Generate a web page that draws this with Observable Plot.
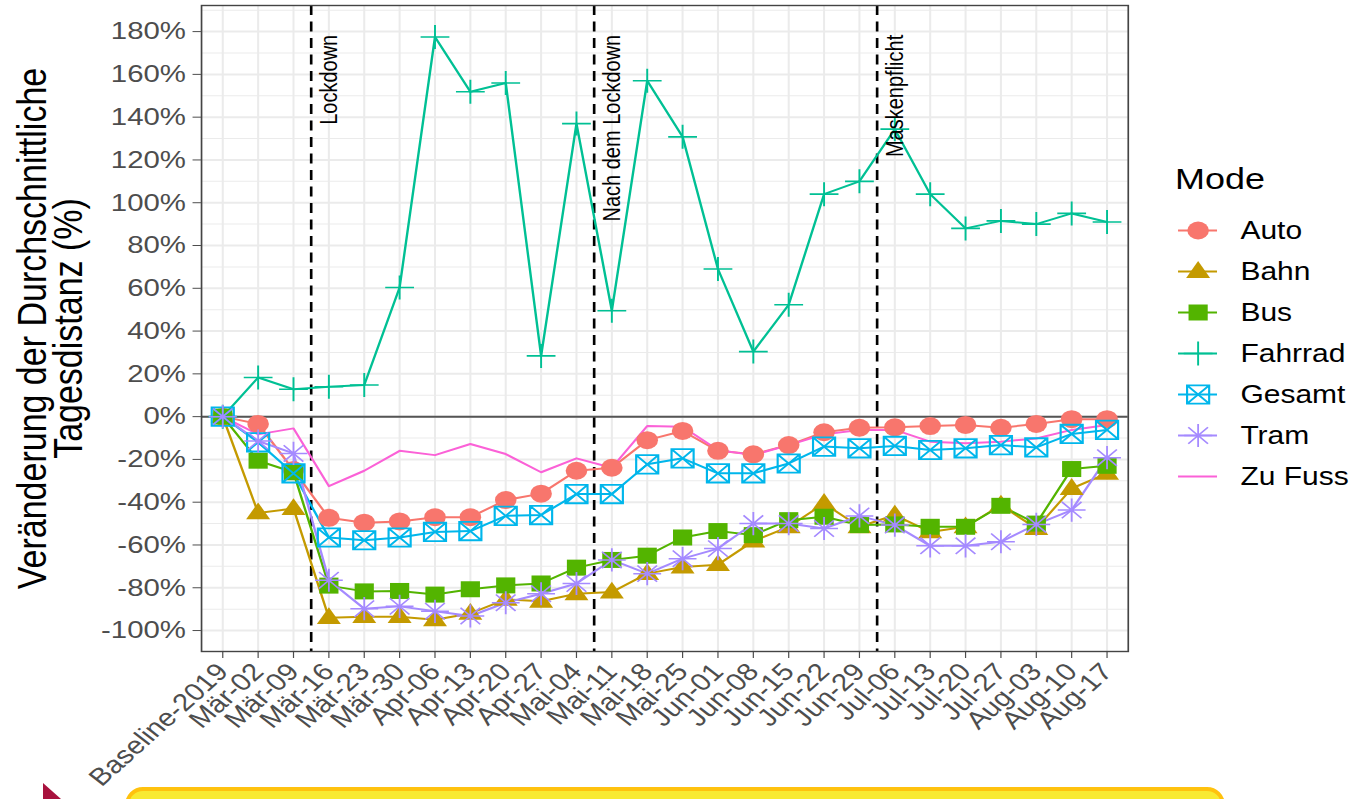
<!DOCTYPE html>
<html>
<head>
<meta charset="utf-8">
<script src="https://cdn.jsdelivr.net/npm/d3@7"></script>
<script src="https://cdn.jsdelivr.net/npm/@observablehq/plot@0.6"></script>
<style>
html, body { margin: 0; padding: 0; background: #fff; }
#root { position: relative; width: 1352px; height: 799px; overflow: hidden; background: #fff; font-family: "Liberation Sans", Arial, sans-serif; }
#chart { position: absolute; left: 0; top: 0; }
#legend { position: absolute; left: 1152px; top: 150px; }
#note { position: absolute; left: 125px; top: 787px; width: 1092px; height: 40px; border: 4px solid #FFC20E; border-radius: 18px; background: #F8EA32; }
#mark { position: absolute; left: 43px; top: 783px; width: 18px; height: 16px; background: #A8123E; clip-path: polygon(0 0, 100% 100%, 0 100%); }
</style>
</head>
<body>
<div id="root">
  <div id="chart"></div>
  <div id="legend"></div>
  <div id="note"></div>
  <div id="mark"></div>
</div>
<script>
// ---------- data ----------
const categories = ["Baseline-2019","Mär-02","Mär-09","Mär-16","Mär-23","Mär-30","Apr-06","Apr-13","Apr-20","Apr-27","Mai-04","Mai-11","Mai-18","Mai-25","Jun-01","Jun-08","Jun-15","Jun-22","Jun-29","Jul-06","Jul-13","Jul-20","Jul-27","Aug-03","Aug-10","Aug-17"];
const modes = ["Auto","Bahn","Bus","Fahrrad","Gesamt","Tram","Zu Fuss"];
const colors = ["#F8766D","#C49A00","#53B400","#00C094","#00B6EB","#A58AFF","#FB61D7"];

const auto    = [0, -3.4, -25, -47.3, -49.6, -49, -47, -47, -39, -36, -25.3, -23.9, -11, -6.7, -16, -17.6, -13.3, -7.3, -5.2, -5, -4.4, -3.9, -5.2, -3.4, -1.2, -1.2];
const bahn    = [0, -45, -43, -94, -93.5, -93.5, -95, -92, -85.4, -86.3, -82.8, -82, -73.4, -70.3, -69.2, -58.2, -51.5, -40.6, -51.5, -46, -53.9, -51.5, -41.4, -52.3, -33.6, -26.5];
const bus     = [0, -20.6, -26, -79, -81.7, -81.5, -83.2, -80.7, -78.9, -78, -70.6, -67, -65, -56.5, -53.5, -55.4, -48.4, -46.8, -50.7, -50.4, -51.5, -51.5, -41.7, -50, -24.5, -23];
const fahrrad = [0, 18.3, 12.8, 14, 14.8, 60.4, 177.5, 151.9, 156, 28.4, 137, 49.5, 157, 130.8, 69, 30.4, 52.3, 104, 110, 134.4, 104, 88, 91.5, 90, 95, 91];
const gesamt  = [0, -12, -26.5, -56.5, -57.8, -56.5, -53.9, -53.5, -46.4, -46, -36.2, -36.2, -22.3, -19.5, -26.5, -26.5, -21.9, -14, -14.8, -13.7, -15.6, -14.8, -13.3, -14.4, -8.1, -6.2];
const tram    = [0, -11.4, -17.2, -76.5, -89.8, -88.7, -91, -93.2, -87, -82.8, -78, -67, -73.4, -66.4, -61.7, -50, -50, -52.3, -46.4, -50.7, -60.4, -60.4, -58.5, -50.4, -43.7, -19.2];
const zuFuss  = [0, -8.3, -5.5, -32.5, -25.3, -16, -18, -12.8, -17.5, -26, -19.5, -23.9, -4.4, -4.7, -15.6, -18, -13.3, -8.3, -6.2, -6.2, -11.7, -12.5, -11.7, -10.2, -6.2, -3.9];

const yTicks = d3.range(-100, 181, 20);
const yMinor = d3.range(-90, 191, 20);
const events = [
  {label: "Lockdown", after: "Mär-16"},
  {label: "Nach dem Lockdown", after: "Mai-11"},
  {label: "Maskenpflicht", after: "Jul-06"}
];
const eventLabelY = 178.5;
const yTitle = "Veränderung der Durchschnittliche\nTagesdistanz (%)";
const legendTitle = "Mode";

// ---------- build table ----------
const series = {"Auto": auto, "Bahn": bahn, "Bus": bus, "Fahrrad": fahrrad, "Gesamt": gesamt, "Tram": tram, "Zu Fuss": zuFuss};
const rows = modes.flatMap(m => series[m].map((v, i) => ({mode: m, i, cat: categories[i], value: v})));
const colorOf = Object.fromEntries(modes.map((m, k) => [m, colors[k]]));

// ---------- symbols ----------
const rad = s => Math.sqrt(s / Math.PI);
const sym = {
  tri:  {draw(c, s) { const r = rad(s); c.moveTo(0, -1.3 * r); c.lineTo(1.25 * r, 0.8 * r); c.lineTo(-1.25 * r, 0.8 * r); c.closePath(); }},
  sq:   {draw(c, s) { const a = 1.0 * rad(s); c.rect(-a, -a, 2 * a, 2 * a); }},
  plus: {draw(c, s) { const a = 1.5 * rad(s); c.moveTo(-a, 0); c.lineTo(a, 0); c.moveTo(0, -a); c.lineTo(0, a); }},
  boxX: {draw(c, s) { const a = 1.15 * rad(s); c.rect(-a, -a, 2 * a, 2 * a); c.moveTo(-a, -a); c.lineTo(a, a); c.moveTo(a, -a); c.lineTo(-a, a); }},
  star: {draw(c, s) { const a = 1.45 * rad(s), b = a * Math.SQRT1_2; c.moveTo(-a, 0); c.lineTo(a, 0); c.moveTo(0, -a); c.lineTo(0, a); c.moveTo(-b, -b); c.lineTo(b, b); c.moveTo(b, -b); c.lineTo(-b, b); }}
};
const markerStyle = {
  "Auto":    {symbol: "circle", filled: true,  r: 9},
  "Bahn":    {symbol: sym.tri,  filled: true,  r: 8},
  "Bus":     {symbol: sym.sq,   filled: true,  r: 8},
  "Fahrrad": {symbol: sym.plus, filled: false, r: 8, sw: 1.6},
  "Gesamt":  {symbol: sym.boxX, filled: false, r: 8, sw: 1.8},
  "Tram":    {symbol: sym.star, filled: false, r: 8, sw: 1.5},
  "Zu Fuss": null
};
function dotMark(data, m, x, y) {
  const ms = markerStyle[m];
  return Plot.dot(data, {
    x, y, symbol: ms.symbol, r: ms.r,
    fill: ms.filled ? colorOf[m] : "none",
    stroke: ms.filled ? "none" : colorOf[m],
    strokeWidth: ms.sw || 1
  });
}

// ---------- layout ----------
const FONT = '"Liberation Sans", Arial, Helvetica, sans-serif';
const S = 1352 / 1127; // horizontal stretch of the reference picture
const W = 1127, H = 799;

function stretch(svg, w, h) {
  svg.setAttribute("viewBox", `0 0 ${w} ${h}`);
  svg.setAttribute("preserveAspectRatio", "none");
  svg.setAttribute("width", w * S);
  svg.setAttribute("height", h);
  svg.style.width = (w * S) + "px";
  svg.style.height = h + "px";
  svg.style.maxWidth = "none";
  return svg;
}

const main = Plot.plot({
  width: W, height: H,
  marginLeft: 167.5, marginRight: 187, marginTop: 5, marginBottom: 148,
  style: {fontFamily: FONT, fontSize: "24px", background: "transparent", color: "#000", overflow: "visible"},
  x: {domain: [-0.6, categories.length - 0.4]},
  y: {domain: [-109.8, 192.2]},
  marks: [
    Plot.ruleY(yMinor, {stroke: "#EBEBEB", strokeWidth: 1}),
    Plot.ruleY(yTicks, {stroke: "#EBEBEB", strokeWidth: 2}),
    Plot.ruleX(d3.range(categories.length), {stroke: "#EBEBEB", strokeWidth: 1.7}),
    Plot.ruleY([0], {stroke: "#555", strokeWidth: 2}),
    Plot.ruleX(events, {x: d => categories.indexOf(d.after) - 0.5, stroke: "#000", strokeWidth: 2.2, strokeDasharray: "10,6.5"}),
    ...modes.map(m => Plot.line(rows.filter(d => d.mode === m), {x: "i", y: "value", stroke: colorOf[m], strokeWidth: 2})),
    ...modes.filter(m => markerStyle[m]).map(m => dotMark(rows.filter(d => d.mode === m), m, "i", "value")),
    Plot.text(events, {x: d => categories.indexOf(d.after), y: () => eventLabelY, text: "label", rotate: -90, textAnchor: "end", fontSize: 20, fill: "#000"}),
    Plot.text([yTitle], {frameAnchor: "left", text: d => d, rotate: -90, dx: -124.5, fontSize: 34, lineHeight: 0.88, fill: "#000", textAnchor: "middle"}),
    Plot.axisY({ticks: yTicks, tickFormat: d => d + "%", tickSize: 7, tickPadding: 6, fontSize: 24.5, color: "#4D4D4D", label: null}),
    Plot.axisX({ticks: d3.range(categories.length), tickFormat: i => categories[i], tickSize: 7, tickPadding: 9, tickRotate: -47, textAnchor: "end", fontSize: 24.5, color: "#4D4D4D", label: null}),
    Plot.frame({stroke: "#444", strokeWidth: 1.4})
  ]
});
document.getElementById("chart").appendChild(stretch(main, W, H));

// ---------- legend ----------
const LW = 167, LH = 360;
const legend = Plot.plot({
  width: LW, height: LH,
  marginLeft: 21.7, marginRight: LW - 54.2, marginTop: 80, marginBottom: 34,
  style: {fontFamily: FONT, fontSize: "25px", background: "transparent", color: "#000", overflow: "visible"},
  x: {domain: [0, 1], axis: null},
  y: {type: "point", domain: modes, padding: 0, axis: null},
  marks: [
    Plot.text([legendTitle], {frameAnchor: "top-left", text: d => d, dx: -3, dy: -63, fontSize: 30, textAnchor: "start", fill: "#000"}),
    ...modes.map(m => Plot.ruleY([m], {y: d => d, x1: () => 0, x2: () => 1, stroke: colorOf[m], strokeWidth: 2})),
    ...modes.filter(m => markerStyle[m]).map(m => dotMark([m], m, () => 0.5, d => d)),
    Plot.text(modes, {x: () => 1, y: d => d, text: d => d, dx: 19, textAnchor: "start", fontSize: 25, fill: "#000"})
  ]
});
document.getElementById("legend").appendChild(stretch(legend, LW, LH));
</script>
</body>
</html>
